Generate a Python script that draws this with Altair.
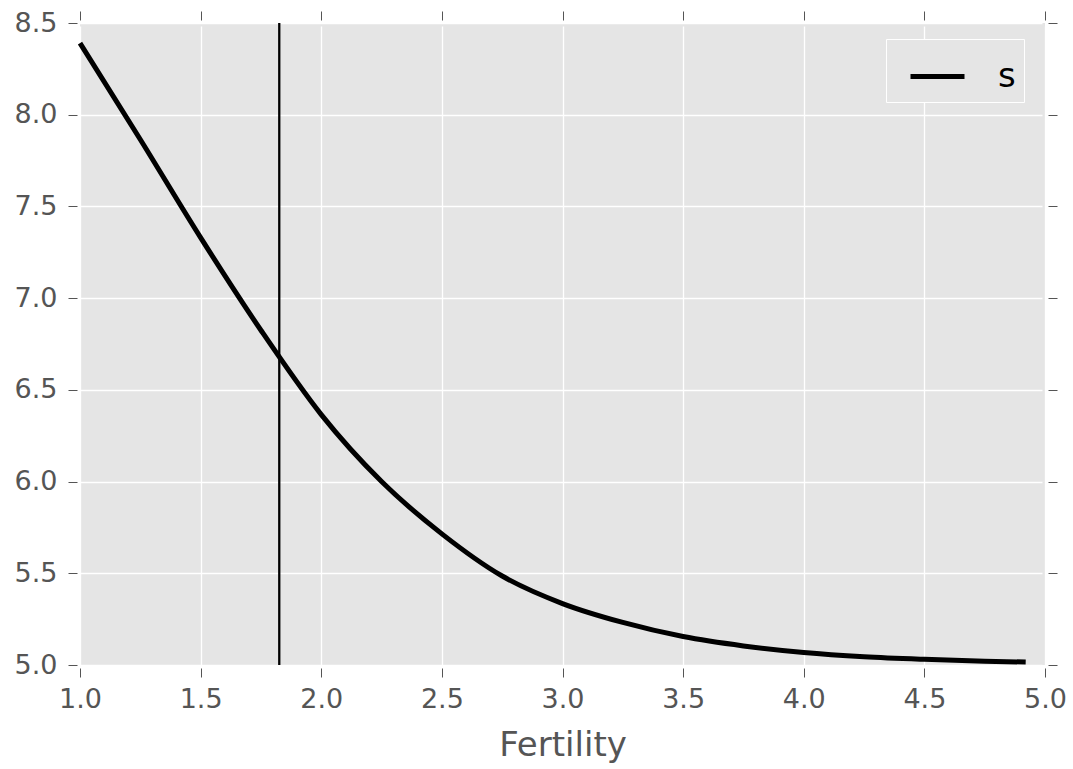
import altair as alt
import pandas as pd

fertility = [1.0, 1.25, 1.5, 1.75, 2.0, 2.25, 2.5, 2.75, 3.0, 3.25, 3.5, 3.75, 4.0, 4.25, 4.5, 4.75, 4.92]
s_values = [8.39, 7.865, 7.33, 6.825, 6.365, 6.0, 5.715, 5.485, 5.335, 5.232, 5.155, 5.104, 5.068, 5.045, 5.031, 5.021, 5.016]
vline_x = [1.826]
x_ticks = [1.0, 1.5, 2.0, 2.5, 3.0, 3.5, 4.0, 4.5, 5.0]
y_ticks = [5.0, 5.5, 6.0, 6.5, 7.0, 7.5, 8.0, 8.5]

df = pd.DataFrame({"Fertility": fertility, "s": s_values, "series": ["s"] * len(fertility)})
vdf = pd.DataFrame({"x": vline_x})

xscale = alt.Scale(domain=[1.0, 5.0], nice=False, zero=False)
yscale = alt.Scale(domain=[5.0, 8.5], nice=False, zero=False)

line = alt.Chart(df).mark_line(strokeWidth=5, interpolate="monotone").encode(
    x=alt.X("Fertility:Q", scale=xscale,
            axis=alt.Axis(orient="bottom", values=x_ticks, format=".1f", title="Fertility",
                          labelPadding=9, labelFlush=False,
                          titleFontSize=34, titleColor="#555555",
                          titleFont="DejaVu Sans", titleFontWeight="normal",
                          titleBaseline="alphabetic", titleY=87)),
    y=alt.Y("s:Q", scale=yscale,
            axis=alt.Axis(orient="left", values=y_ticks, format=".1f", title=None,
                          labelPadding=11, labelFlush=False)),
    stroke=alt.Stroke("series:N", scale=alt.Scale(domain=["s"], range=["black"]),
                      legend=alt.Legend(title=None, orient="none", legendX=806, legendY=16,
                                        symbolType="stroke", symbolSize=2916,
                                        symbolStrokeWidth=5, symbolStrokeColor="black",
                                        symbolOffset=14, labelOffset=31,
                                        labelFontSize=34, labelColor="black",
                                        labelFont="DejaVu Sans",
                                        labelExpr="datum.label + '\u2009'",
                                        padding=8, strokeColor="white",
                                        fillColor="#E5E5E5", cornerRadius=0)),
)

vline = alt.Chart(vdf).mark_rule(strokeWidth=2.3, color="black").encode(
    x=alt.X("x:Q", scale=xscale,
            axis=alt.Axis(orient="top", values=x_ticks, labels=False, grid=False, title=None)),
    y=alt.value(0),
    y2=alt.value(642),
)

right_axis = alt.Chart(df).mark_point(opacity=0).encode(
    y=alt.Y("s:Q", scale=yscale,
            axis=alt.Axis(orient="right", values=y_ticks, labels=False, grid=False, title=None)),
    x=alt.X("Fertility:Q", scale=xscale, axis=None),
)

chart = alt.layer(line, vline, right_axis).resolve_axis(
    x="independent", y="independent"
).properties(
    width=965, height=642,
    autosize=alt.AutoSizeParams(type="none"),
    padding={"left": 80, "top": 23, "right": 28, "bottom": 104},
    background="white",
).configure_view(
    fill="#E5E5E5", strokeWidth=0
).configure_axis(
    domain=False, tickColor="#555555", tickSize=9, tickWidth=1, offset=3,
    labelFont="DejaVu Sans", labelFontSize=27, labelColor="#555555",
    gridColor="white", gridWidth=1.3,
)

chart.save("out.html", embed_options={"renderer": "svg", "actions": False})
